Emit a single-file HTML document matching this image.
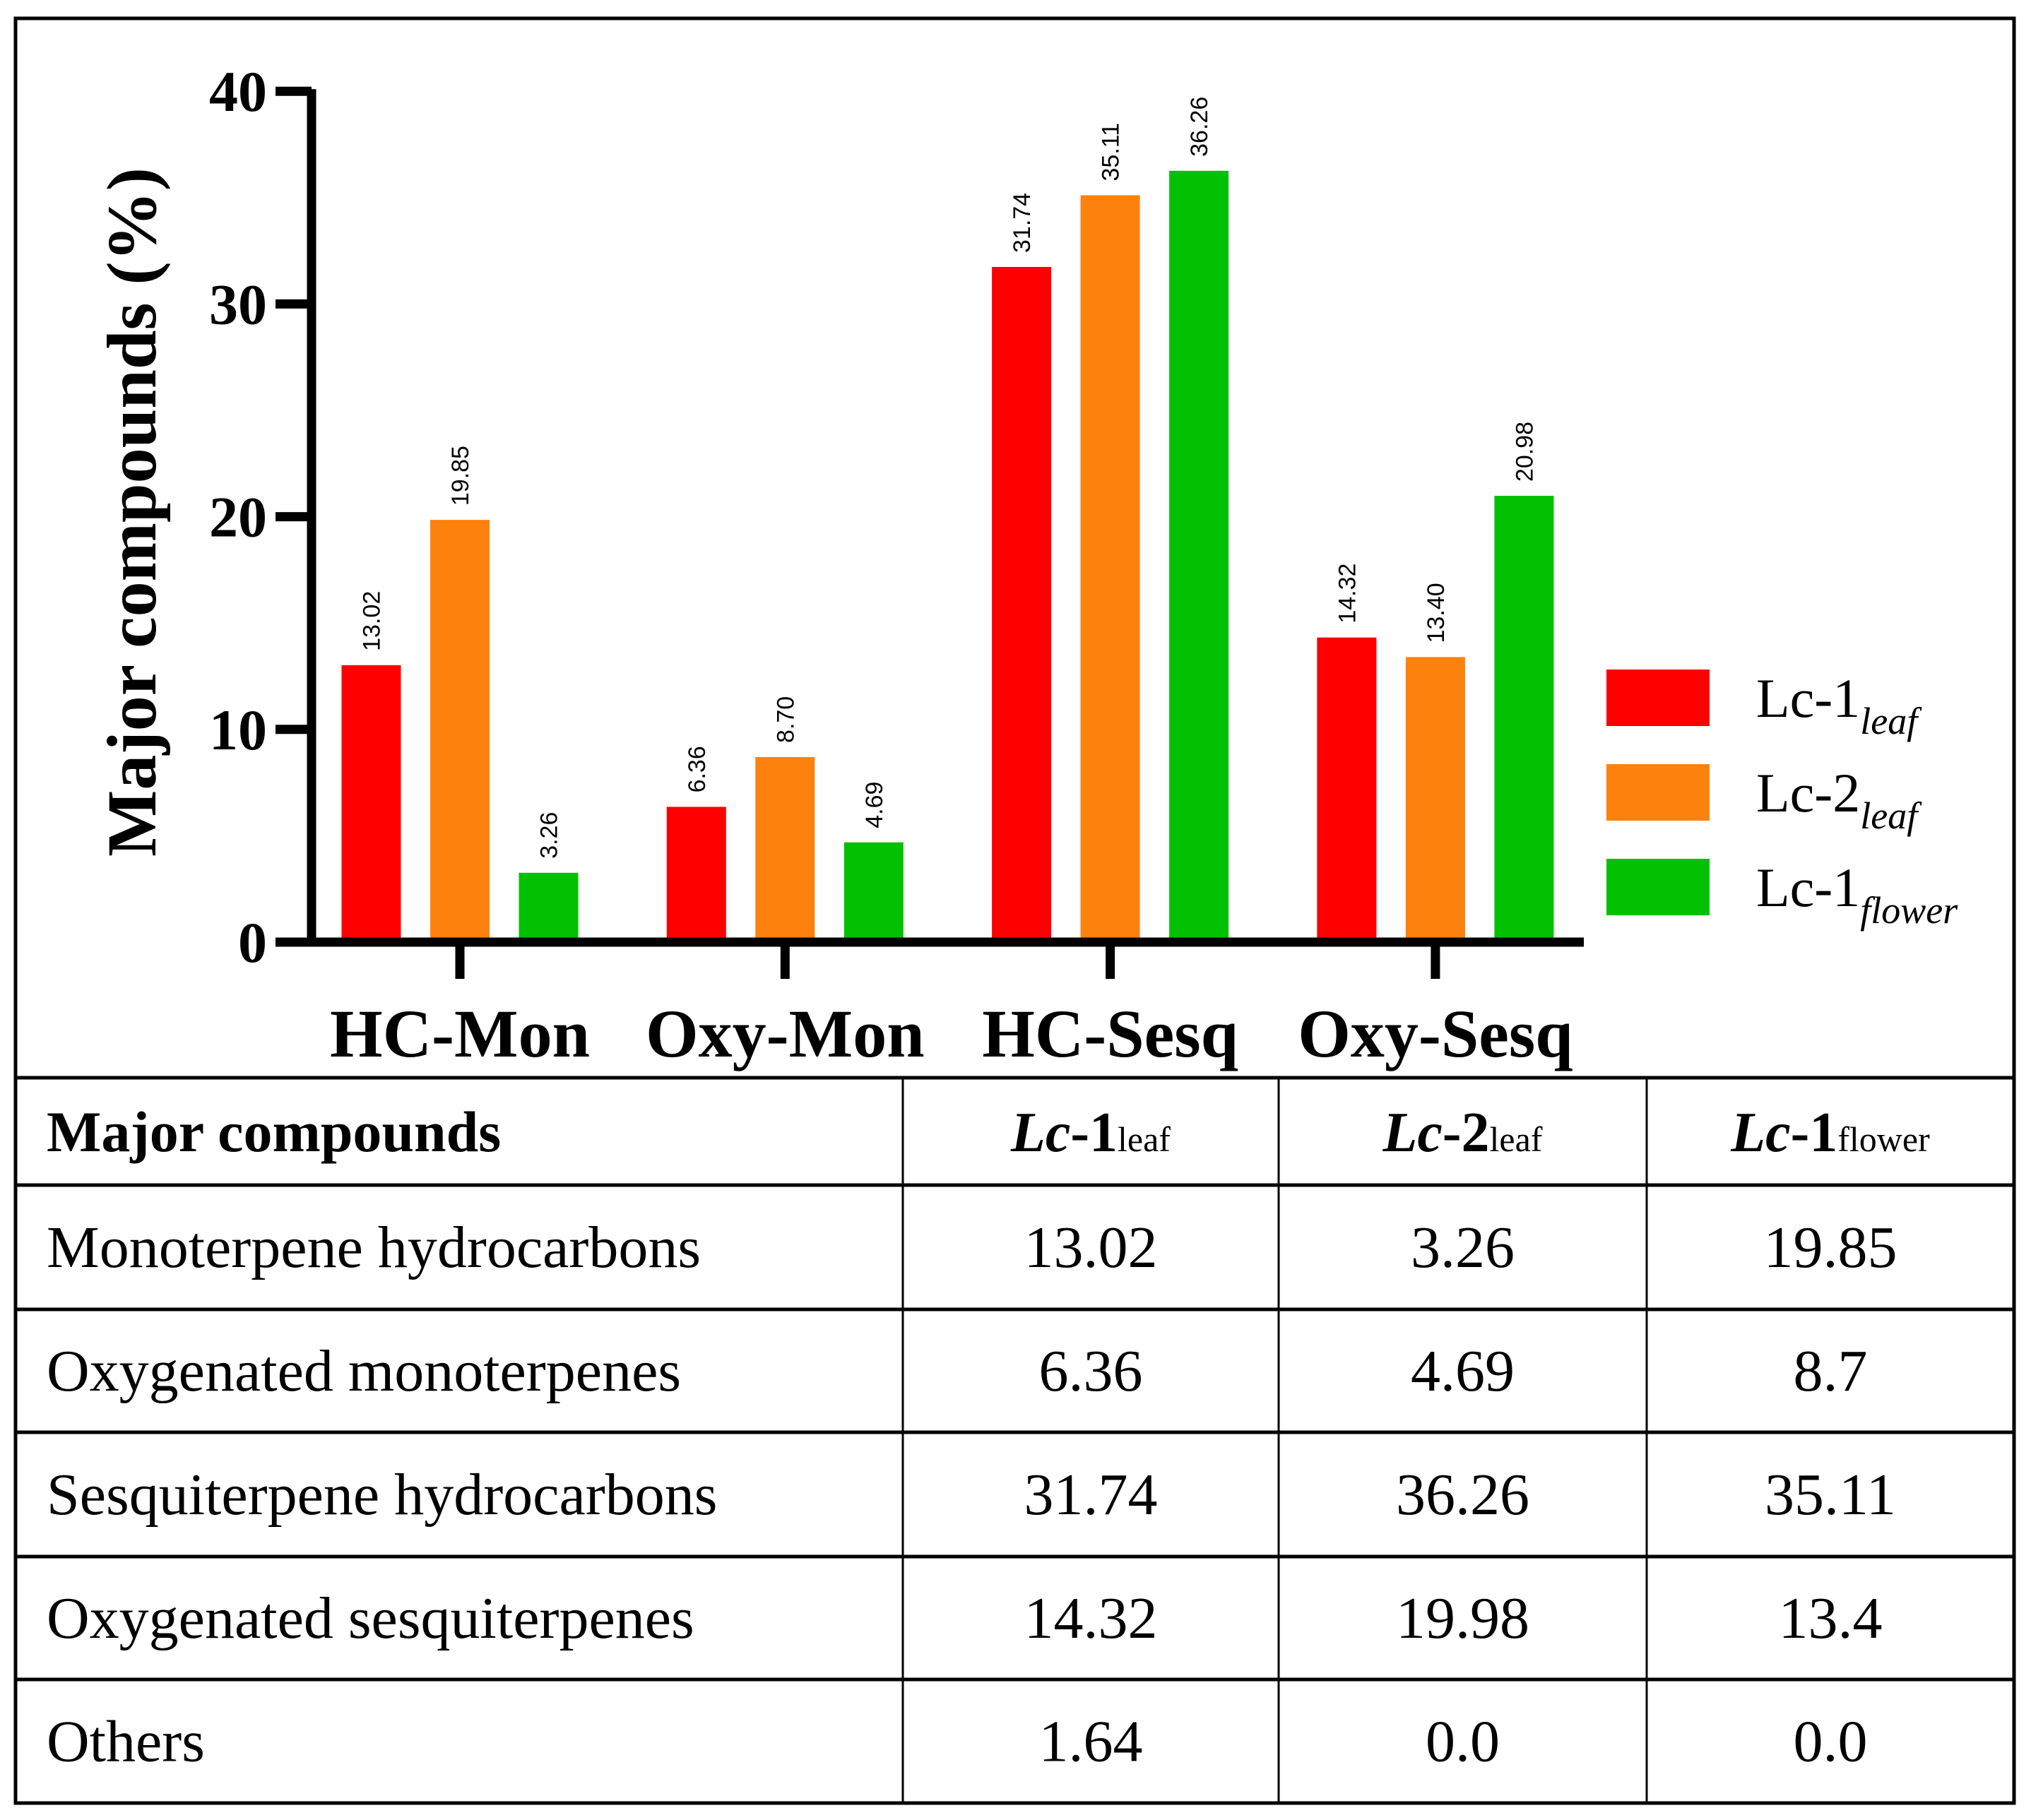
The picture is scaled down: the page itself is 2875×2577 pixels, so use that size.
<!DOCTYPE html>
<html><head><meta charset="utf-8"><style>
html,body{margin:0;padding:0;background:#fff;}
body{width:2875px;height:2577px;position:relative;overflow:hidden;font-family:"Liberation Serif",serif;}
svg{position:absolute;left:0;top:0;}
</style></head><body>
<svg id="chart" width="2875" height="2577" viewBox="0 0 2875 2577" xmlns="http://www.w3.org/2000/svg">
<rect x="22" y="26" width="2829" height="2527" fill="none" stroke="#000" stroke-width="5"/>
<g id="plot"></g>
<text transform="translate(220,725) rotate(-90)" text-anchor="middle" font-family="Liberation Serif" font-weight="bold" font-size="100">Major compounds (%)</text>
<g id="legend"></g>
<g id="table"></g>
</svg>
<script>
const categories = ["HC-Mon","Oxy-Mon","HC-Sesq","Oxy-Sesq"];
const seriesNames = ["Lc-1","Lc-2","Lc-1"];
const seriesSubs = ["leaf","leaf","flower"];
const lc1Leaf = [13.02,6.36,31.74,14.32];
const lc2Leaf = [19.85,8.70,35.11,13.40];
const lc1Flower = [3.26,4.69,36.26,20.98];
const yTicks = [0,10,20,30,40];
const tableHeader = ["Major compounds","Lc-1|leaf","Lc-2|leaf","Lc-1|flower"];
const rowLabels = ["Monoterpene hydrocarbons","Oxygenated monoterpenes","Sesquiterpene hydrocarbons","Oxygenated sesquiterpenes","Others"];
const colLc1Leaf = ["13.02","6.36","31.74","14.32","1.64"];
const colLc2Leaf = ["3.26","4.69","36.26","19.98","0.0"];
const colLc1Flower = ["19.85","8.7","35.11","13.4","0.0"];

const NS="http://www.w3.org/2000/svg";
const colors=["#ff0000","#fd810d","#02c102"];
const series=[lc1Leaf,lc2Leaf,lc1Flower];
const y0=1334, pxPerUnit=30.12;
const yScale=v=>y0-v*pxPerUnit;
const xCenter=i=>651+i*460.3;
function mk(tag,attrs,parent){const e=document.createElementNS(NS,tag);for(const k in attrs)e.setAttribute(k,attrs[k]);parent.appendChild(e);return e;}
const plot=document.getElementById('plot');
series.forEach((s,si)=>{
  s.forEach((v,ci)=>{
    const cx=xCenter(ci)+(si-1)*125.5;
    const r=mk('rect',{x:cx-42,y:yScale(v),width:84,height:y0-yScale(v),fill:colors[si]},plot);
    
    
    const t=mk('text',{transform:`translate(${cx+12},${yScale(v)-20}) rotate(-90)`,'font-family':'Liberation Sans','font-size':'34'},plot);
    t.textContent=v.toFixed(2);
    
    
  });
});
const ya=mk('line',{x1:441,y1:yScale(40)-3,x2:441,y2:y0+6,stroke:'#000','stroke-width':13},plot);


const xa=mk('line',{x1:390,y1:y0,x2:2242,y2:y0,stroke:'#000','stroke-width':13},plot);


yTicks.forEach(v=>{
  const l=mk('line',{x1:390,y1:yScale(v),x2:441,y2:yScale(v),stroke:'#000','stroke-width':13},plot);
  
  
  const t=mk('text',{x:378,y:yScale(v)+28,'text-anchor':'end','font-family':'Liberation Serif','font-weight':'bold','font-size':'82'},plot);
  t.textContent=v;
  
  
});
categories.forEach((c,i)=>{
  const l=mk('line',{x1:xCenter(i),y1:y0,x2:xCenter(i),y2:1386,stroke:'#000','stroke-width':13},plot);
  
  
  const t=mk('text',{x:xCenter(i),y:1496,'text-anchor':'middle','font-family':'Liberation Serif','font-weight':'bold','font-size':'96'},plot);
  t.textContent=c;
  
  
});
const lg=document.getElementById('legend');
seriesNames.forEach((n,i)=>{
  const y=948+i*134;
  const r=mk('rect',{x:2274,y:y,width:146,height:80,fill:colors[i]},lg);
  
  
  const t=mk('text',{x:2486,y:y+67,'font-family':'Liberation Serif','font-size':'78'},lg);
  
  
  t.textContent=n;
  const s=mk('tspan',{'font-style':'italic','font-size':'54',dy:'24'},t);
  s.textContent=seriesSubs[i];
});
const tb=document.getElementById('table');
const colX=[22,1278,1810,2331,2851];
const rowY=[1526,1678,1854,2028,2204,2378,2553];
rowY.forEach((y,i)=>{const l=mk('line',{x1:22,y1:y,x2:2851,y2:y,stroke:'#000','stroke-width':5},tb);});
colX.slice(1,4).forEach(x=>{const l=mk('line',{x1:x,y1:1526,x2:x,y2:2553,stroke:'#000','stroke-width':3},tb);});
const mids=[0,1,2,3].map(i=>(colX[i+1]+colX[i])/2);
{
  const t=mk('text',{x:66,y:1630,'font-family':'Liberation Serif','font-weight':'bold','font-size':'82'},tb);
  t.textContent=tableHeader[0];
  
  
  for(let c=1;c<4;c++){
    const [main,sub]=tableHeader[c].split('|');
    const h=mk('text',{x:mids[c],y:1630,'text-anchor':'middle','font-family':'Liberation Serif','font-weight':'bold','font-size':'80'},tb);
    
    
    const a=mk('tspan',{'font-style':'italic'},h);a.textContent=main.slice(0,2);
    const b=mk('tspan',{},h);b.textContent=main.slice(2);
    const d=mk('tspan',{'font-size':'50','font-weight':'normal'},h);d.textContent=sub;
  }
}
const cols=[colLc1Leaf,colLc2Leaf,colLc1Flower];
rowLabels.forEach((lab,r)=>{
  const base=(rowY[r+1]+rowY[r+2])/2+28;
  const t=mk('text',{x:66,y:base,'font-family':'Liberation Serif','font-size':'84'},tb);
  t.textContent=lab;
  
  
  cols.forEach((col,c)=>{
    const v=mk('text',{x:mids[c+1],y:base,'text-anchor':'middle','font-family':'Liberation Serif','font-size':'84'},tb);
    v.textContent=col[r];
    
    
  });
});
</script>
</body></html>
